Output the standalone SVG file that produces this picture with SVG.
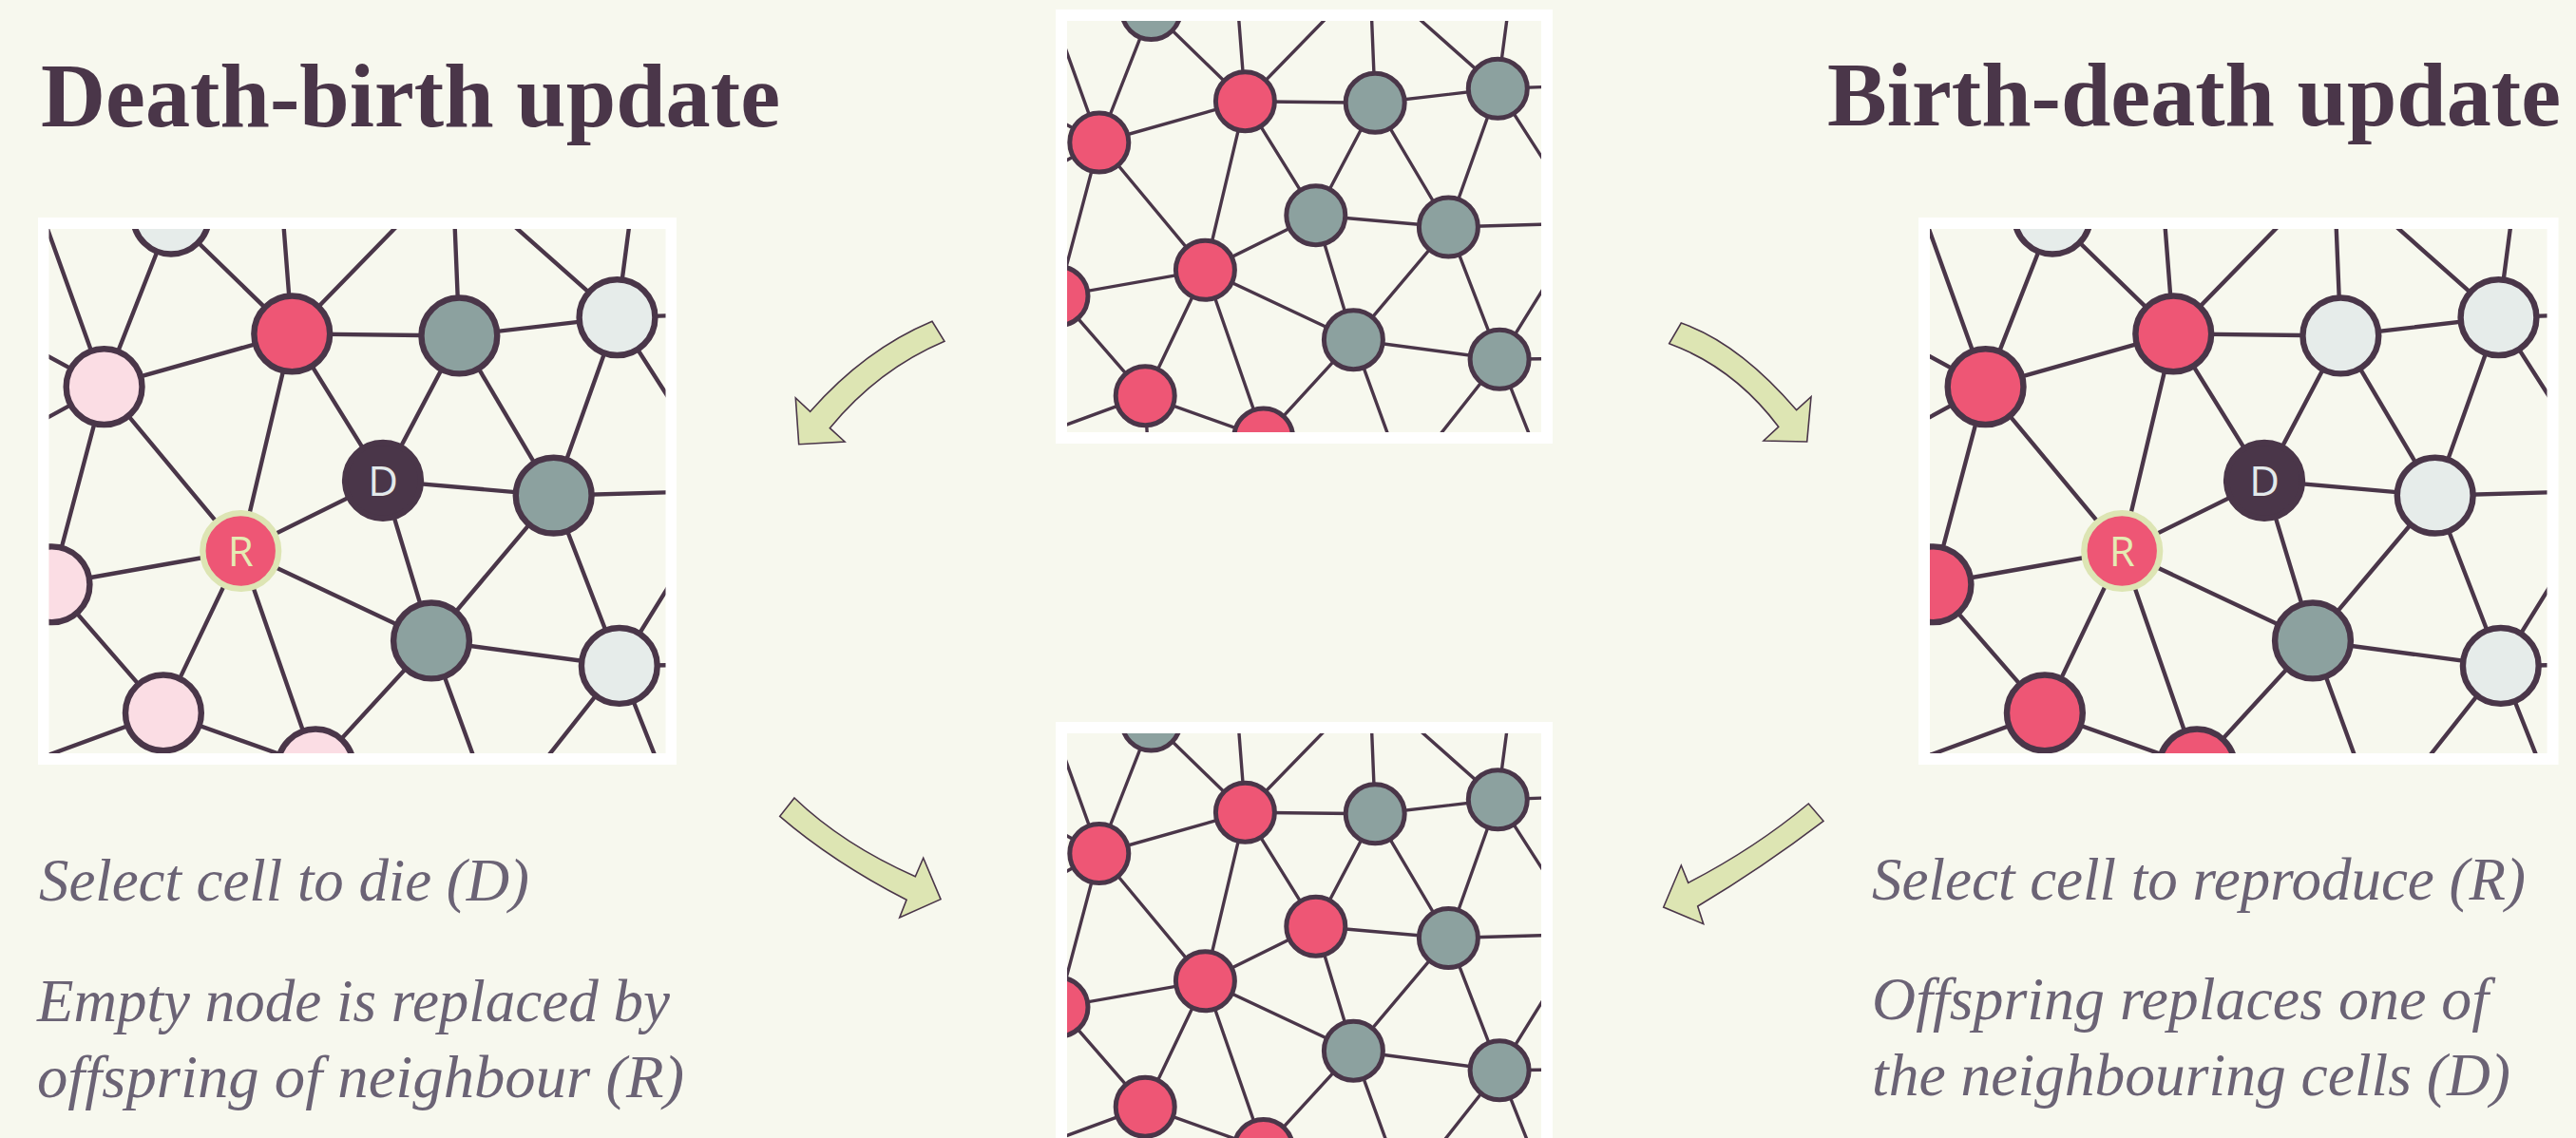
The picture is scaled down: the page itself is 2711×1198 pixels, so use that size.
<svg xmlns="http://www.w3.org/2000/svg" xmlns:xlink="http://www.w3.org/1999/xlink" width="2711" height="1198" viewBox="0 0 2711 1198">
<style>
.bg{fill:#f7f8ee}
.frame{fill:#ffffff}
.inner{fill:#f7f8ee}
.e line{stroke:#4a3649;stroke-width:3.4;stroke-linecap:round}
.n circle{stroke:#4a3649;stroke-width:5}
.red{fill:#ee5675}
.gray{fill:#8ca19f}
.light{fill:#e6ecea}
.pink{fill:#fbdde4}
.dark{fill:#4a3649}
.n circle.ring{fill:#ee5675;stroke:#dde5b4;stroke-width:5}
.title{font-family:"Liberation Serif",serif;font-weight:bold;font-size:95px;fill:#4a3649}
.cap{font-family:"Liberation Serif",serif;font-style:italic;font-size:64px;fill:#6b6375}
.lbl{font-family:"Open Sans","Liberation Sans",sans-serif;font-size:34px;text-anchor:middle}
.lblD{fill:#e3e9ea}
.lblR{fill:#e5ebb4}
.arrow{fill:#dde5b3;stroke:#4a3649;stroke-width:1.6;stroke-linejoin:miter}
</style>
<defs>
<g id="edges" class="e">
<line x1="1211.5" y1="10.5" x2="1310.4" y2="106.7"/>
<line x1="1211.5" y1="10.5" x2="1156.8" y2="150"/>
<line x1="1156.8" y1="150" x2="1310.4" y2="106.7"/>
<line x1="1310.4" y1="106.7" x2="1447.2" y2="108.3"/>
<line x1="1447.2" y1="108.3" x2="1576.3" y2="93.3"/>
<line x1="1156.8" y1="150" x2="1268.4" y2="284.3"/>
<line x1="1310.4" y1="106.7" x2="1268.4" y2="284.3"/>
<line x1="1310.4" y1="106.7" x2="1384.8" y2="226.7"/>
<line x1="1384.8" y1="226.7" x2="1447.2" y2="108.3"/>
<line x1="1447.2" y1="108.3" x2="1524.4" y2="239"/>
<line x1="1576.3" y1="93.3" x2="1524.4" y2="239"/>
<line x1="1384.8" y1="226.7" x2="1524.4" y2="239"/>
<line x1="1384.8" y1="226.7" x2="1268.4" y2="284.3"/>
<line x1="1268.4" y1="284.3" x2="1114" y2="311.7"/>
<line x1="1268.4" y1="284.3" x2="1424.4" y2="357.7"/>
<line x1="1384.8" y1="226.7" x2="1424.4" y2="357.7"/>
<line x1="1424.4" y1="357.7" x2="1524.4" y2="239"/>
<line x1="1424.4" y1="357.7" x2="1578.1" y2="378.3"/>
<line x1="1524.4" y1="239" x2="1578.1" y2="378.3"/>
<line x1="1268.4" y1="284.3" x2="1205.2" y2="416.7"/>
<line x1="1268.4" y1="284.3" x2="1329.7" y2="461"/>
<line x1="1205.2" y1="416.7" x2="1329.7" y2="461"/>
<line x1="1424.4" y1="357.7" x2="1329.7" y2="461"/>
<line x1="1114" y1="311.7" x2="1156.8" y2="150"/>
<line x1="1114" y1="311.7" x2="1205.2" y2="416.7"/>
<line x1="1156.8" y1="150" x2="1085" y2="-50"/>
<line x1="1156.8" y1="150" x2="1056" y2="95"/>
<line x1="1156.8" y1="150" x2="1056" y2="205"/>
<line x1="1310.4" y1="106.7" x2="1298" y2="-54"/>
<line x1="1310.4" y1="106.7" x2="1467" y2="-54"/>
<line x1="1447.2" y1="108.3" x2="1440.5" y2="-56"/>
<line x1="1576.3" y1="93.3" x2="1416" y2="-49"/>
<line x1="1576.3" y1="93.3" x2="1595" y2="-49"/>
<line x1="1576.3" y1="93.3" x2="1668" y2="90"/>
<line x1="1576.3" y1="93.3" x2="1667" y2="235"/>
<line x1="1524.4" y1="239" x2="1667" y2="235"/>
<line x1="1578.1" y1="378.3" x2="1667" y2="235"/>
<line x1="1578.1" y1="378.3" x2="1670" y2="377"/>
<line x1="1578.1" y1="378.3" x2="1639" y2="532"/>
<line x1="1578.1" y1="378.3" x2="1478" y2="505"/>
<line x1="1424.4" y1="357.7" x2="1478" y2="505"/>
<line x1="1205.2" y1="416.7" x2="1082" y2="462"/>
<line x1="1205.2" y1="416.7" x2="1210" y2="512"/>
</g>
<clipPath id="cL"><rect x="51.5" y="241" width="649" height="552"/></clipPath>
<clipPath id="cR"><rect x="2031" y="241" width="649.5" height="552"/></clipPath>
<clipPath id="cT"><rect x="1123" y="22" width="499" height="433"/></clipPath>
<clipPath id="cB"><rect x="1123" y="772" width="499" height="433"/></clipPath>
</defs>

<rect class="bg" x="0" y="0" width="2711" height="1198"/>

<g id="title-death-birth"><text class="title" x="43" y="133" textLength="778" lengthAdjust="spacingAndGlyphs">Death-birth update</text></g>
<g id="title-birth-death"><text class="title" x="1923" y="132" textLength="772" lengthAdjust="spacingAndGlyphs">Birth-death update</text></g>

<g id="panel-initial">
<rect class="frame" x="1111" y="10" width="523" height="457"/>
<rect class="inner" x="1123" y="22" width="499" height="433"/>
<g clip-path="url(#cT)">
<use xlink:href="#edges" href="#edges"/>
<g class="n">
<circle class="gray" cx="1211.5" cy="10.5" r="31"/>
<circle class="red" cx="1310.4" cy="106.7" r="31"/>
<circle class="red" cx="1156.8" cy="150" r="31"/>
<circle class="gray" cx="1447.2" cy="108.3" r="31"/>
<circle class="gray" cx="1576.3" cy="93.3" r="31"/>
<circle class="gray" cx="1384.8" cy="226.7" r="31"/>
<circle class="gray" cx="1524.4" cy="239" r="31"/>
<circle class="red" cx="1268.4" cy="284.3" r="31"/>
<circle class="red" cx="1114" cy="311.7" r="31"/>
<circle class="gray" cx="1424.4" cy="357.7" r="31"/>
<circle class="gray" cx="1578.1" cy="378.3" r="31"/>
<circle class="red" cx="1205.2" cy="416.7" r="31"/>
<circle class="red" cx="1329.7" cy="461" r="31"/>
</g>
</g>
</g>

<g id="panel-result">
<rect class="frame" x="1111" y="760" width="523" height="457"/>
<rect class="inner" x="1123" y="772" width="499" height="433"/>
<g clip-path="url(#cB)">
<g transform="translate(0,748.5)">
<use xlink:href="#edges" href="#edges"/>
<g class="n">
<circle class="gray" cx="1211.5" cy="10.5" r="31"/>
<circle class="red" cx="1310.4" cy="106.7" r="31"/>
<circle class="red" cx="1156.8" cy="150" r="31"/>
<circle class="gray" cx="1447.2" cy="108.3" r="31"/>
<circle class="gray" cx="1576.3" cy="93.3" r="31"/>
<circle class="red" cx="1384.8" cy="226.7" r="31"/>
<circle class="gray" cx="1524.4" cy="239" r="31"/>
<circle class="red" cx="1268.4" cy="284.3" r="31"/>
<circle class="red" cx="1114" cy="311.7" r="31"/>
<circle class="gray" cx="1424.4" cy="357.7" r="31"/>
<circle class="gray" cx="1578.1" cy="378.3" r="31"/>
<circle class="red" cx="1205.2" cy="416.7" r="31"/>
<circle class="red" cx="1329.7" cy="461" r="31"/>
</g>
</g>
</g>
</g>

<g id="panel-death-birth">
<rect class="frame" x="40" y="229" width="672" height="576"/>
<rect class="inner" x="51.5" y="241" width="649" height="552"/>
<g clip-path="url(#cL)">
<g transform="matrix(1.287,0,0,1.287,-1379.2,214.1)">
<use xlink:href="#edges" href="#edges"/>
<g class="n">
<circle class="light" cx="1211.5" cy="10.5" r="31"/>
<circle class="red" cx="1310.4" cy="106.7" r="31"/>
<circle class="pink" cx="1156.8" cy="150" r="31"/>
<circle class="gray" cx="1447.2" cy="108.3" r="31"/>
<circle class="light" cx="1576.3" cy="93.3" r="31"/>
<circle class="dark" cx="1384.8" cy="226.7" r="31"/>
<circle class="gray" cx="1524.4" cy="239" r="31"/>
<circle class="ring" cx="1268.4" cy="284.3" r="31"/>
<circle class="pink" cx="1114" cy="311.7" r="31"/>
<circle class="gray" cx="1424.4" cy="357.7" r="31"/>
<circle class="light" cx="1578.1" cy="378.3" r="31"/>
<circle class="pink" cx="1205.2" cy="416.7" r="31"/>
<circle class="pink" cx="1329.7" cy="461" r="31"/>
</g>
<text class="lbl lblD" x="1384.8" y="239">D</text>
<text class="lbl lblR" x="1268.4" y="296.6">R</text>
</g>
</g>
</g>

<g id="panel-birth-death">
<rect class="frame" x="2019" y="229" width="673.5" height="576"/>
<rect class="inner" x="2031" y="241" width="649.5" height="552"/>
<g clip-path="url(#cR)">
<g transform="matrix(1.287,0,0,1.287,600.8,214.1)">
<use xlink:href="#edges" href="#edges"/>
<g class="n">
<circle class="light" cx="1211.5" cy="10.5" r="31"/>
<circle class="red" cx="1310.4" cy="106.7" r="31"/>
<circle class="red" cx="1156.8" cy="150" r="31"/>
<circle class="light" cx="1447.2" cy="108.3" r="31"/>
<circle class="light" cx="1576.3" cy="93.3" r="31"/>
<circle class="dark" cx="1384.8" cy="226.7" r="31"/>
<circle class="light" cx="1524.4" cy="239" r="31"/>
<circle class="ring" cx="1268.4" cy="284.3" r="31"/>
<circle class="red" cx="1114" cy="311.7" r="31"/>
<circle class="gray" cx="1424.4" cy="357.7" r="31"/>
<circle class="light" cx="1578.1" cy="378.3" r="31"/>
<circle class="red" cx="1205.2" cy="416.7" r="31"/>
<circle class="red" cx="1329.7" cy="461" r="31"/>
</g>
<text class="lbl lblD" x="1384.8" y="239">D</text>
<text class="lbl lblR" x="1268.4" y="296.6">R</text>
</g>
</g>
</g>

<g id="caption-death-birth">
<text class="cap" x="41" y="948" textLength="516" lengthAdjust="spacingAndGlyphs">Select cell to die (D)</text>
<text class="cap" x="39" y="1075" textLength="666" lengthAdjust="spacingAndGlyphs">Empty node is replaced by</text>
<text class="cap" x="39" y="1155" textLength="681" lengthAdjust="spacingAndGlyphs">offspring of neighbour (R)</text>
</g>
<g id="caption-birth-death">
<text class="cap" x="1970" y="947" textLength="688" lengthAdjust="spacingAndGlyphs">Select cell to reproduce (R)</text>
<text class="cap" x="1970" y="1073" textLength="649" lengthAdjust="spacingAndGlyphs">Offspring replaces one of</text>
<text class="cap" x="1970" y="1153" textLength="672" lengthAdjust="spacingAndGlyphs">the neighbouring cells (D)</text>
</g>

<g id="connectors">
<path class="arrow" d="M981,338.3 Q910,368 852.7,433.3 L837.3,419 L840.7,467.7 L889,465 L873.3,450.7 Q924,389 994,359.3 Z"/>
<path class="arrow" d="M1769.3,340 Q1830,361 1890.7,431.7 L1906,417.7 L1901.7,465 L1856,464 L1871.7,449.3 Q1825,387 1756.7,361.7 Z"/>
<path class="arrow" d="M836,840 Q887,889 963.3,922.7 L971.7,903.3 L990,946.7 L946.7,966 L954,947.3 Q876,907 820.7,859.3 Z"/>
<path class="arrow" d="M1903.3,846 Q1847,893 1776.7,929.3 L1769.3,911 L1750.7,955 L1792.7,972.7 L1786.7,954 Q1855,913 1919,864.3 Z"/>
</g>
</svg>
